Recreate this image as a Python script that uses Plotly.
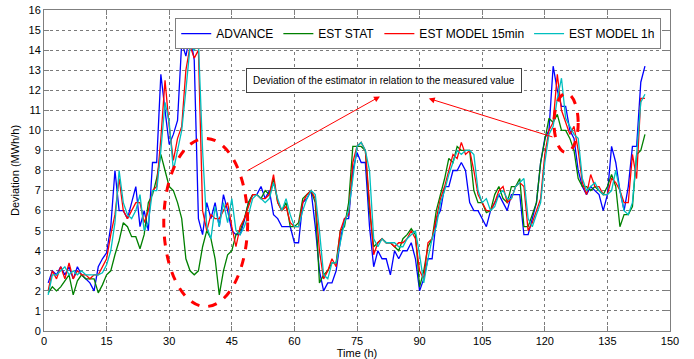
import plotly.graph_objects as go

hours = list(range(1, 145))

advance = [2.4, 3.0, 2.8, 3.2, 2.8, 3.2, 2.6, 3.2, 2.8, 2.6, 2.4, 2.0, 3.2, 3.6, 3.9, 5.2, 8.0, 6.0, 6.0, 5.6,
           6.4, 7.2, 5.2, 6.0, 5.0, 8.4, 8.4, 12.8, 11.0, 9.3, 9.8, 10.5, 14.4, 13.7, 14.8, 13.5, 5.6, 4.8, 6.4, 5.6,
           6.4, 5.2, 6.8, 6.0, 5.0, 4.8, 4.8, 5.5, 6.4, 6.8, 6.8, 7.2, 6.6, 7.0, 5.8, 5.6, 5.2, 5.2, 5.2, 4.4,
           4.4, 6.4, 6.6, 7.0, 5.2, 3.0, 2.0, 2.4, 2.4, 3.0, 4.5, 5.6, 5.6, 8.0, 8.9, 8.4, 8.4, 5.2, 3.2, 4.0,
           3.6, 3.6, 2.8, 4.0, 3.6, 4.0, 4.0, 4.4, 3.6, 2.0, 2.6, 3.6, 3.6, 5.6, 6.0, 7.2, 7.2, 8.0, 8.0, 8.4,
           8.0, 6.4, 6.0, 6.0, 5.6, 5.2, 6.0, 6.4, 6.8, 6.4, 6.0, 6.8, 6.8, 6.8, 4.8, 4.8, 5.6, 6.4, 8.4, 9.6,
           10.0, 13.2, 12.0, 11.2, 11.2, 10.0, 9.6, 8.0, 7.2, 6.8, 7.2, 7.0, 6.8, 6.0, 6.8, 9.2, 8.4, 7.0, 6.0, 7.2,
           9.2, 9.2, 12.4, 13.2]

est_stat = [1.9, 2.2, 2.0, 2.2, 2.5, 2.8, 1.8, 2.5, 2.8, 2.6, 2.6, 2.6, 1.9, 2.3, 2.8, 3.0, 3.8, 4.5, 5.4, 5.2,
            4.7, 4.7, 4.1, 4.8, 6.4, 6.8, 7.6, 8.8, 8.0, 7.2, 7.0, 6.4, 5.6, 3.6, 3.0, 2.8, 3.0, 4.2, 5.0, 4.6,
            3.6, 1.8, 3.0, 3.8, 4.0, 4.8, 5.0, 5.6, 6.4, 6.8, 6.8, 6.6, 7.0, 6.8, 7.6, 6.4, 6.0, 6.4, 5.2, 5.2,
            5.4, 6.6, 6.8, 7.0, 6.4, 2.4, 2.8, 3.0, 3.4, 3.4, 5.0, 5.2, 6.4, 9.2, 9.2, 9.2, 9.0, 6.0, 4.2, 4.4,
            4.6, 4.4, 4.4, 4.2, 4.0, 4.6, 4.8, 5.1, 4.8, 2.2, 3.0, 4.2, 4.6, 6.0, 6.8, 7.6, 8.6, 8.4, 9.2, 9.0,
            9.0, 9.0, 7.0, 6.4, 6.4, 5.9, 6.0, 6.8, 7.2, 6.6, 6.4, 7.2, 7.2, 7.6, 5.2, 5.2, 5.8, 6.4, 8.4, 9.6,
            10.6, 10.4, 10.8, 10.0, 10.0, 9.6, 9.0, 7.6, 7.2, 7.2, 7.0, 7.2, 7.0, 6.8, 7.2, 7.8, 7.2, 5.2, 5.8, 5.8,
            6.2, 8.8, 9.0, 9.8]

est_model_15min = [2.0, 3.0, 2.6, 3.2, 2.6, 3.4, 2.6, 3.0, 2.8, 2.8, 2.6, 2.8, 2.8, 3.2, 3.6, 4.8, 5.8, 7.6, 6.0, 5.6,
                   6.0, 6.4, 6.4, 5.4, 6.0, 7.0, 7.2, 9.6, 12.5, 10.2, 8.5, 9.6, 10.2, 13.0, 14.2, 13.6, 14.0, 6.0, 5.0, 5.8,
                   5.6, 5.6, 6.0, 6.4, 5.2, 4.2, 5.2, 5.6, 6.2, 6.8, 6.8, 6.6, 6.6, 6.8, 7.8, 6.4, 6.0, 6.2, 5.4, 5.2,
                   5.2, 6.4, 6.8, 7.0, 6.6, 4.0, 2.6, 3.0, 3.6, 3.2, 5.0, 5.6, 5.8, 8.4, 9.2, 9.4, 9.0, 6.4, 3.8, 4.4,
                   4.6, 4.4, 4.4, 4.2, 4.4, 4.4, 4.6, 5.0, 4.6, 3.0, 2.6, 4.4, 4.6, 5.6, 6.6, 7.2, 8.0, 8.8, 8.6, 9.4,
                   8.8, 9.0, 8.0, 6.8, 6.4, 6.0, 6.0, 6.4, 7.0, 7.2, 6.4, 6.6, 7.2, 7.4, 7.2, 5.0, 5.4, 6.0, 6.6, 8.8,
                   10.0, 10.4, 12.8, 11.0, 10.4, 9.8, 10.2, 9.0, 7.4, 6.8, 7.8, 7.2, 7.2, 6.8, 6.8, 7.6, 7.4, 7.0, 6.4, 6.4,
                   8.8, 7.6, 11.6, 11.6]

est_model_1h = [1.8, 2.8, 2.8, 3.0, 3.2, 2.8, 3.0, 2.8, 3.0, 2.8, 2.8, 2.8, 2.8, 2.9, 3.3, 4.0, 5.4, 8.0, 6.4, 5.8,
                5.6, 6.0, 6.8, 5.0, 5.4, 7.0, 7.0, 9.0, 11.4, 10.4, 8.0, 9.0, 10.0, 12.0, 14.2, 14.0, 14.4, 9.0, 5.2, 4.6,
                6.2, 5.2, 6.4, 5.4, 6.6, 5.0, 4.8, 5.2, 5.8, 6.6, 6.8, 6.6, 6.4, 6.6, 7.4, 6.6, 6.0, 6.6, 5.8, 5.2,
                5.2, 6.0, 6.6, 7.0, 6.8, 5.0, 2.8, 2.6, 3.4, 3.4, 4.4, 5.4, 6.0, 7.6, 9.2, 9.4, 9.0, 8.0, 4.6, 4.2,
                4.6, 4.4, 4.4, 4.4, 4.2, 4.2, 4.6, 4.8, 5.0, 3.8, 2.4, 3.6, 4.6, 5.2, 6.4, 7.0, 7.8, 8.4, 9.0, 8.8,
                9.0, 9.0, 8.8, 7.0, 6.4, 6.6, 6.0, 6.2, 6.8, 7.0, 6.6, 6.6, 7.2, 7.4, 7.6, 5.6, 5.2, 5.8, 6.4, 8.4,
                9.8, 10.2, 11.6, 12.6, 10.6, 10.2, 9.8, 9.6, 7.6, 7.0, 7.2, 7.4, 7.0, 6.8, 6.8, 7.0, 8.0, 7.0, 6.0, 5.8,
                6.4, 8.8, 11.4, 11.8]

series_names = ["ADVANCE", "EST STAT", "EST MODEL 15min", "EST MODEL 1h"]
series_values = [advance, est_stat, est_model_15min, est_model_1h]
series_colors = ["#0000FF", "#008000", "#FF0000", "#00BFBF"]

x_ticks = list(range(0, 151, 15))
y_ticks = list(range(0, 17))

note_text = "Deviation of the estimator in relation to the measured value"

fig = go.Figure()
for name, vals, col in zip(series_names, series_values, series_colors):
    fig.add_trace(go.Scatter(x=hours, y=vals, mode="lines", name=name,
                             line=dict(color=col, width=1.3)))

font_family = "Liberation Sans, Arial, sans-serif"

axis_common = dict(
    showgrid=True, gridcolor="#7a7a7a", griddash="dot", gridwidth=1,
    showline=True, linecolor="#7f7f7f", linewidth=1, mirror="ticks",
    ticks="inside", ticklen=5, tickcolor="#7f7f7f", automargin=False,
    zeroline=False, tickfont=dict(family=font_family, size=11, color="#000"),
)

fig.update_layout(
    width=694, height=359,
    margin=dict(l=44, r=24, t=10, b=28, autoexpand=False),
    paper_bgcolor="white", plot_bgcolor="white",
    font=dict(family=font_family, color="#000"),
    xaxis=dict(range=[0, 150], tickvals=x_ticks, **axis_common,
               title=dict(text="Time (h)", font=dict(size=11), standoff=4)),
    yaxis=dict(range=[0, 16], tickvals=y_ticks, **axis_common,
               title=dict(text="Deviation (MWh/h)", font=dict(size=11), standoff=6)),
    legend=dict(orientation="h", x=0.986, y=0.975, xanchor="right", yanchor="top",
                bgcolor="white", bordercolor="#7f7f7f", borderwidth=1,
                font=dict(family=font_family, size=12), itemwidth=30,
                tracegroupgap=0),
    showlegend=True,
)

# dashed ellipses
fig.add_shape(type="circle", xref="x", yref="y", x0=28.7, x1=48.8, y0=1.22, y1=9.6,
              line=dict(color="#FF0000", width=3, dash="dash"))
fig.add_shape(type="circle", xref="x", yref="y", x0=122.2, x1=128.0, y0=8.9, y1=11.84,
              line=dict(color="#FF0000", width=3, dash="dash"))

# text box
fig.add_annotation(x=81.4, y=12.5, xref="x", yref="y", text=note_text, showarrow=False,
                   font=dict(family=font_family, size=10, color="#000"),
                   bgcolor="white", bordercolor="#404040", borderwidth=1, borderpad=6)

# arrows
fig.add_annotation(x=80.5, y=11.69, ax=48.4, ay=7.95, xref="x", yref="y", axref="x", ayref="y",
                   text="", showarrow=True, arrowhead=2, arrowsize=1.2, arrowwidth=1, arrowcolor="#FF0000")
fig.add_annotation(x=92.2, y=11.59, ax=122.2, ay=9.65, xref="x", yref="y", axref="x", ayref="y",
                   text="", showarrow=True, arrowhead=2, arrowsize=1.2, arrowwidth=1, arrowcolor="#FF0000")

fig.write_html("out.html", config={"displayModeBar": False},
               post_script="document.body.style.margin='0';document.body.style.overflow='hidden';")
